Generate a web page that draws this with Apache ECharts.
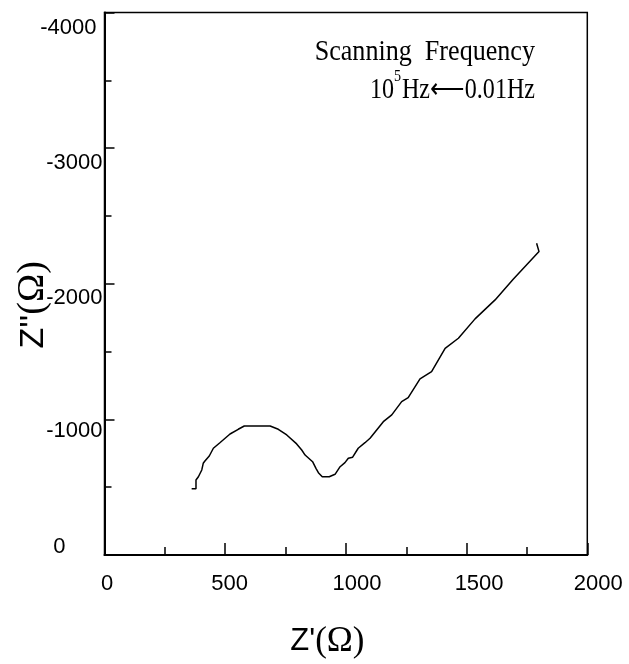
<!DOCTYPE html>
<html><head><meta charset="utf-8">
<script src="https://cdn.jsdelivr.net/npm/echarts@6/dist/echarts.min.js"></script>
<style>html,body{margin:0;padding:0;background:#fff}#c{width:629px;height:664px}</style>
</head><body><div id="c"></div>
<script>
// Nyquist data: Z' (real) and Z'' (imaginary, negative) in ohms
const zReal = [361,379,379,389,403,409,416,434,451,478,520,554,579,686,720,755,796,817,831,862,876,886,902,931,955,976,996,1010,1028,1051,1079,1100,1155,1190,1231,1258,1307,1355,1411,1466,1535,1618,1693,1800,1790];
const zImag = [-489,-489,-553,-577,-627,-676,-693,-730,-787,-828,-892,-927,-951,-951,-927,-885,-819,-774,-737,-688,-639,-607,-577,-577,-595,-651,-681,-713,-721,-787,-828,-861,-983,-1033,-1131,-1160,-1298,-1352,-1524,-1598,-1741,-1881,-2033,-2237,-2299];
const xTickLabels = ['0','500','1000','1500','2000'];
const yTickLabels = ['-4000','-3000','-2000','-1000','0'];
const noteLine1 = 'Scanning  Frequency';
const noteLine2 = ['10', '5', 'Hz\u27F50.01Hz'];

const sans = 'Liberation Sans';
const serif = 'Liberation Serif';

// per-label nudges (reference labels are not perfectly centred on ticks)
const xPad = [[0,0,0,5],[0,0,0,9],[0,0,0,22],[0,0,0,25],[0,0,0,22]];
const yPad = [[30,6,0,0],[30,0,0,0],[28,0,0,0],[24,0,0,0],[0,37,16,0]];
const xRich = {}, yRich = {};
xTickLabels.forEach((t,i)=>{ xRich['x'+i] = {fontFamily:sans,fontSize:22,color:'#000',padding:xPad[i]}; });
yTickLabels.forEach((t,i)=>{ yRich['y'+i] = {fontFamily:sans,fontSize:22,color:'#000',padding:yPad[i]}; });

const chart = echarts.init(document.getElementById('c'), null, {renderer:'canvas'});
chart.setOption({
  animation:false,
  backgroundColor:'#fff',
  grid:{left:104.5, right:41.7, top:12.5, bottom:109, show:true, borderColor:'#000', borderWidth:1.5, containLabel:false, outerBoundsMode:'none'},
  xAxis:{
    type:'value', min:0, max:2000, interval:500,
    axisLine:{onZero:false, lineStyle:{color:'#000', width:2}},
    axisTick:{inside:true, length:12, lineStyle:{color:'#000', width:1.5}},
    minorTick:{show:true, splitNumber:2, length:8, lineStyle:{color:'#000', width:1.5}},
    splitLine:{show:false},
    axisLabel:{margin:18, formatter:(v)=>{const i=xTickLabels.indexOf(String(v)); return '{x'+i+'|'+xTickLabels[i]+'}';}, rich:xRich},
    name:'{a|Z\'}{b|(\u03A9)}', nameLocation:'middle', nameGap:69, nameMoveOverlap:false,
    nameTextStyle:{rich:{a:{fontFamily:sans,fontSize:31,color:'#000'}, b:{fontFamily:serif,fontSize:35,color:'#000'}}, padding:[0,37,0,0]}
  },
  yAxis:{
    type:'value', min:-4000, max:0, interval:1000, inverse:true,
    axisLine:{onZero:false, lineStyle:{color:'#000', width:2}},
    axisTick:{inside:true, length:10, lineStyle:{color:'#000', width:1.5}},
    minorTick:{show:true, splitNumber:2, length:7, lineStyle:{color:'#000', width:1.5}},
    splitLine:{show:false},
    axisLabel:{margin:2, formatter:(v)=>{const i=yTickLabels.indexOf(String(v)); return '{y'+i+'|'+yTickLabels[i]+'}';}, rich:yRich},
    name:'{a|Z\'\'}{b|(\u03A9)}', nameLocation:'middle', nameGap:52, nameMoveOverlap:false,
    nameTextStyle:{rich:{a:{fontFamily:sans,fontSize:34,color:'#000'}, b:{fontFamily:serif,fontSize:38,color:'#000'}}, padding:[0,42,0,0]}
  },
  series:[{
    type:'line', data:zReal.map((x,i)=>[x,zImag[i]]), showSymbol:false, symbol:'none',
    lineStyle:{color:'#000', width:1.5}, smooth:false
  }],
  graphic:[
    {type:'text', x:535, y:52, originX:0, originY:0, scaleX:0.9,
     style:{text:noteLine1, x:0, y:0, align:'right', verticalAlign:'middle', font:'29px "Liberation Serif"', fill:'#000'}},
    {type:'text', x:535, y:86.5, originX:0, originY:0, scaleX:0.83,
     style:{text:'{n|'+noteLine2[0]+'}{s|'+noteLine2[1]+'}{n|'+noteLine2[2]+'}', x:0, y:0, align:'right', verticalAlign:'middle',
       rich:{n:{fontFamily:serif,fontSize:29,fill:'#000',color:'#000',padding:[7,0,0,0]}, s:{fontFamily:serif,fontSize:17,fill:'#000',color:'#000',verticalAlign:'top',padding:[0,1,0,0]}}}}
  ]
});
</script></body></html>
